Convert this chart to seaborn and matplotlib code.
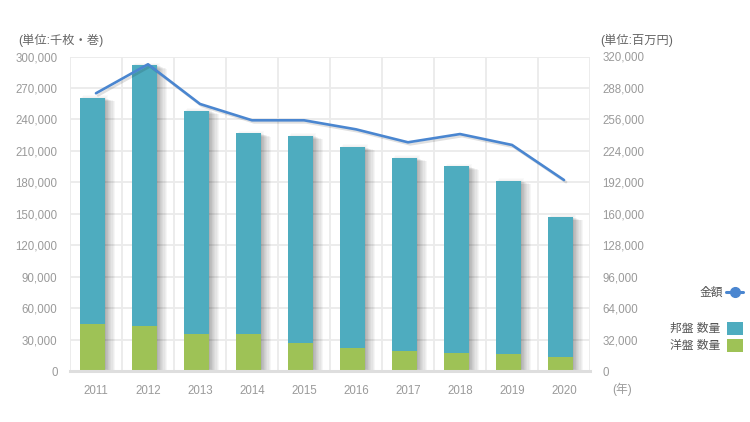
import numpy as np
import pandas as pd
import matplotlib
matplotlib.use("Agg")
import matplotlib.pyplot as plt
import matplotlib.patheffects as pe
from matplotlib.lines import Line2D
from matplotlib.patches import Patch
import seaborn as sns

# ---- data ----
years = ["2011", "2012", "2013", "2014", "2015", "2016", "2017", "2018", "2019", "2020"]
domestic = [215700, 248800, 213100, 191700, 198100, 191800, 183800, 177700, 165300, 133400]  # 邦盤 数量
foreign = [44800, 42900, 35300, 35000, 26400, 21900, 19400, 17500, 16200, 13400]             # 洋盤 数量
amount = [282600, 312100, 271700, 255100, 255100, 245900, 232700, 241100, 230000, 194300]    # 金額 (百万円)
left_ticks = [0, 30000, 60000, 90000, 120000, 150000, 180000, 210000, 240000, 270000, 300000]
right_ticks = [0, 32000, 64000, 96000, 128000, 160000, 192000, 224000, 256000, 288000, 320000]

C_DOM = "#4eacbf"
C_FOR = "#9ec256"
C_LINE = "#4a86d0"
C_GRID = "#ebebeb"
C_TICK = "#9a9a9a"
C_UNIT = "#666666"

sns.set_theme(style="white")
plt.rcParams["font.family"] = ["Liberation Sans", "Noto Sans CJK JP", "DejaVu Sans"]

df = pd.DataFrame({"year": years, "domestic": domestic, "foreign": foreign, "amount": amount})
df["total"] = df["domestic"] + df["foreign"]

fig = plt.figure(figsize=(7.5, 4.22), dpi=100)
ax = fig.add_axes([70 / 750, 51 / 422, 520 / 750, 314.5 / 422])

shadow_fx = ([pe.SimplePatchShadow(offset=(k * 0.9, -0.3 * k), shadow_rgbFace="#000000", alpha=0.035)
              for k in range(1, 9)]
             + [pe.SimplePatchShadow(offset=(k * 0.7, 0.6 * k), shadow_rgbFace="#000000", alpha=0.02)
                for k in range(1, 4)]
             + [pe.Normal()])

sns.barplot(data=df, x="year", y="total", color=C_DOM, width=0.48, saturation=1,
            ax=ax, zorder=3)
n_dom = len(ax.patches)
sns.barplot(data=df, x="year", y="foreign", color=C_FOR, width=0.48, saturation=1,
            ax=ax, zorder=4)
for i, p in enumerate(ax.patches):
    p.set_edgecolor("none")
    p.set_x(p.get_x() - 0.065)
    if i < n_dom:
        p.set_path_effects(shadow_fx)

ax.set_xlim(-0.5, len(years) - 0.5)
ax.set_ylim(0, 300000)
ax.set_yticks(left_ticks)
ax.set_yticklabels([f"{v:,}" for v in left_ticks])
ax.set_xlabel("")
ax.set_ylabel("")

# grid: horizontal at ticks, vertical at category boundaries
for v in left_ticks[1:]:
    ax.axhline(v, color=C_GRID, lw=1.3, zorder=0)
for b in np.arange(-0.5, len(years) + 0.5, 1.0):
    ax.axvline(b, color=C_GRID, lw=1.3, zorder=0)

for s in ["top", "right", "left"]:
    ax.spines[s].set_visible(False)
ax.spines["bottom"].set_color("#dedede")
ax.spines["bottom"].set_linewidth(2.2)
ax.spines["bottom"].set_zorder(5)

ax.tick_params(axis="y", colors=C_TICK, labelsize=8.3, length=0, pad=9)
ax.tick_params(axis="x", colors=C_TICK, labelsize=8.3, length=0, pad=10)

ax2 = ax.twinx()
sns.lineplot(x=np.arange(len(years)), y=df["amount"], ax=ax2, color=C_LINE, lw=1.9,
             zorder=6)
ax2.lines[0].set_path_effects([pe.SimpleLineShadow(offset=(1.5, -1.5), shadow_color="#000000", alpha=0.12),
                               pe.Normal()])
ax2.set_ylim(0, 320000)
ax2.set_yticks(right_ticks)
ax2.set_yticklabels([f"{v:,}" for v in right_ticks])
ax2.set_ylabel("")
ax2.tick_params(axis="y", colors=C_TICK, labelsize=8.3, length=0, pad=9)
for s in ax2.spines.values():
    s.set_visible(False)
ax2.set_xlim(-0.5, len(years) - 0.5)

# unit labels
fig.text(18 / 750, 1 - 40 / 422, "(単位:千枚・巻)", fontsize=8.8, color=C_UNIT, va="center", ha="left")
fig.text(600 / 750, 1 - 40 / 422, "(単位:百万円)", fontsize=8.8, color=C_UNIT, va="center", ha="left")
fig.text(612 / 750, 1 - 389 / 422, "(年)", fontsize=8.5, color=C_TICK, va="center", ha="left")

# legends
h_line = Line2D([], [], color=C_LINE, lw=2.2, marker="o", markersize=7, markeredgecolor=C_LINE)
leg1 = fig.legend(handles=[h_line], labels=["金額"], loc="center right",
                  bbox_to_anchor=(750 / 750, 1 - 293 / 422), frameon=False, markerfirst=False,
                  fontsize=8.5, handlelength=1.4, handletextpad=0.3, borderaxespad=0.2)
for t in leg1.get_texts():
    t.set_color("#555555")
h_dom = Patch(facecolor=C_DOM, edgecolor="none")
h_for = Patch(facecolor=C_FOR, edgecolor="none")
leg2 = fig.legend(handles=[h_dom, h_for], labels=["邦盤 数量", "洋盤 数量"], loc="center right",
                  bbox_to_anchor=(750 / 750, 1 - 337 / 422), frameon=False, markerfirst=False,
                  fontsize=8.5, handlelength=1.35, handleheight=1.35, handletextpad=0.6,
                  labelspacing=0.3, borderaxespad=0.2)
for t in leg2.get_texts():
    t.set_color("#555555")

fig.savefig("out.png", dpi=100)
